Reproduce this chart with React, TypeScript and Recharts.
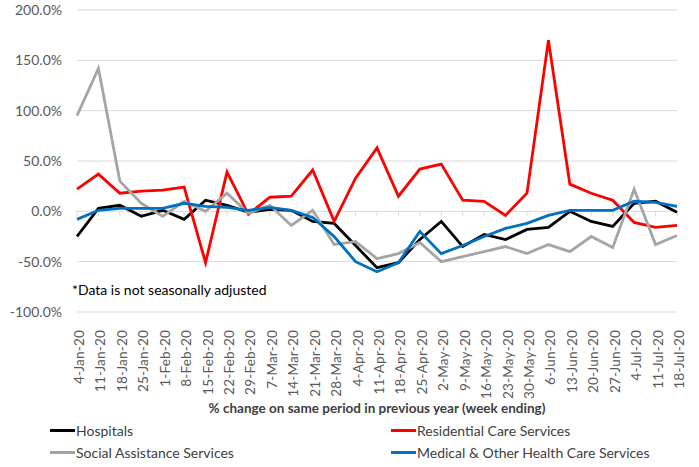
import React from "react";
import {
  LineChart, Line, XAxis, YAxis, CartesianGrid, Legend, ReferenceLine,
} from "recharts";

const weeks = [
  "4-Jan-20", "11-Jan-20", "18-Jan-20", "25-Jan-20", "1-Feb-20", "8-Feb-20", "15-Feb-20",
  "22-Feb-20", "29-Feb-20", "7-Mar-20", "14-Mar-20", "21-Mar-20", "28-Mar-20", "4-Apr-20",
  "11-Apr-20", "18-Apr-20", "25-Apr-20", "2-May-20", "9-May-20", "16-May-20", "23-May-20",
  "30-May-20", "6-Jun-20", "13-Jun-20", "20-Jun-20", "27-Jun-20", "4-Jul-20", "11-Jul-20",
  "18-Jul-20",
];

const hospitals = [-25, 3, 6, -5, 1, -8, 11, 6, -1, 2, 1, -10, -12, -34, -56, -51, -28, -10, -35, -23, -28, -18, -16, 0, -10, -15, 8, 10, -1];
const residential = [22, 37, 18, 20, 21, 24, -51, 39, -3, 14, 15, 41, -10, 33, 63, 15, 42, 47, 11, 10, -4, 18, 170, 27, 18, 11, -11, -16, -14];
const social = [95, 142, 30, 8, -5, 10, 0, 18, -2, 6, -14, 1, -33, -30, -47, -42, -31, -50, -45, -40, -35, -42, -33, -40, -25, -36, 22, -33, -24];
const medical = [-8, 1, 3, 3, 3, 8, 5, 4, 1, 4, 1, -6, -25, -50, -60, -51, -20, -42, -34, -25, -17, -12, -4, 1, 1, 1, 10, 9, 5];

const yTicks = [-100, -50, 0, 50, 100, 150, 200];

const SERIES = [
  { key: "hospitals", name: "Hospitals", color: "#000000" },
  { key: "residential", name: "Residential Care Services", color: "#ff0000" },
  { key: "social", name: "Social Assistance Services", color: "#a5a5a5" },
  { key: "medical", name: "Medical & Other Health Care Services", color: "#0070c0" },
];

const FONT = "Lato, 'Liberation Sans', sans-serif";
const GRID = "#d9d9d9";

const data = weeks.map((week, i) => ({
  week,
  hospitals: hospitals[i],
  residential: residential[i],
  social: social[i],
  medical: medical[i],
}));

function WeekTick({ x, y, payload }: any) {
  return (
    <text
      x={0} y={0} transform={`translate(${x + 7},${y + 10}) rotate(-90)`}
      textAnchor="end" fontSize={13.5} letterSpacing={0.2} fill="#595959" fontFamily={FONT}
    >
      {payload.value}
    </text>
  );
}

function LegendBox() {
  return (
    <div style={{ display: "grid", gridTemplateColumns: "341px 300px", rowGap: 4, paddingLeft: 50, fontFamily: FONT, fontSize: 14, color: "#404040" }}>
      {SERIES.map((s) => (
        <div key={s.key} style={{ display: "flex", alignItems: "center", height: 18 }}>
          <span style={{ display: "inline-block", width: 25, height: 3, background: s.color, marginRight: 1 }} />
          <span>{s.name}</span>
        </div>
      ))}
    </div>
  );
}

export default function App() {
  return (
    <div style={{ position: "absolute", left: 0, top: 0, width: 699, height: 467, background: "#fff" }}>
      <LineChart width={699} height={467} data={data} margin={{ top: 10, right: 22, left: 0, bottom: 0 }}>
        <CartesianGrid vertical={false} stroke={GRID} strokeWidth={1} />
        <XAxis
          dataKey="week" interval={0} height={111} tick={<WeekTick />}
          axisLine={false} tickLine={false}
          label={{
            value: "% change on same period in previous year (week ending)",
            position: "insideBottom", offset: 10,
            style: { fontSize: 13.5, fontWeight: 700, fill: "#404040", fontFamily: FONT },
          }}
        />
        <YAxis
          width={77} domain={[-100, 200]} ticks={yTicks} interval={0}
          axisLine={false} tickLine={false} tickSize={0} tickMargin={15}
          tickFormatter={(v: number) => `${v.toFixed(1)}%`}
          tick={{ fontSize: 14, fill: "#595959", fontFamily: FONT }}
        />
        {/* small category ticks hanging off the zero line */}
        {weeks.map((w) => (
          <ReferenceLine key={w} segment={[{ x: w, y: 0 }, { x: w, y: -5 }]} stroke={GRID} strokeWidth={1} />
        ))}
        {SERIES.map((s) => (
          <Line
            key={s.key} type="linear" dataKey={s.key} name={s.name} stroke={s.color}
            strokeWidth={2.8} dot={false} isAnimationActive={false}
          />
        ))}
        <Legend
          verticalAlign="bottom" content={<LegendBox />}
          wrapperStyle={{ left: 0, bottom: 2, width: 699, height: 44 }}
        />
      </LineChart>
      <div style={{ position: "absolute", left: 72, top: 281, fontFamily: FONT, fontSize: 14, color: "#000" }}>
        *Data is not seasonally adjusted
      </div>
    </div>
  );
}
